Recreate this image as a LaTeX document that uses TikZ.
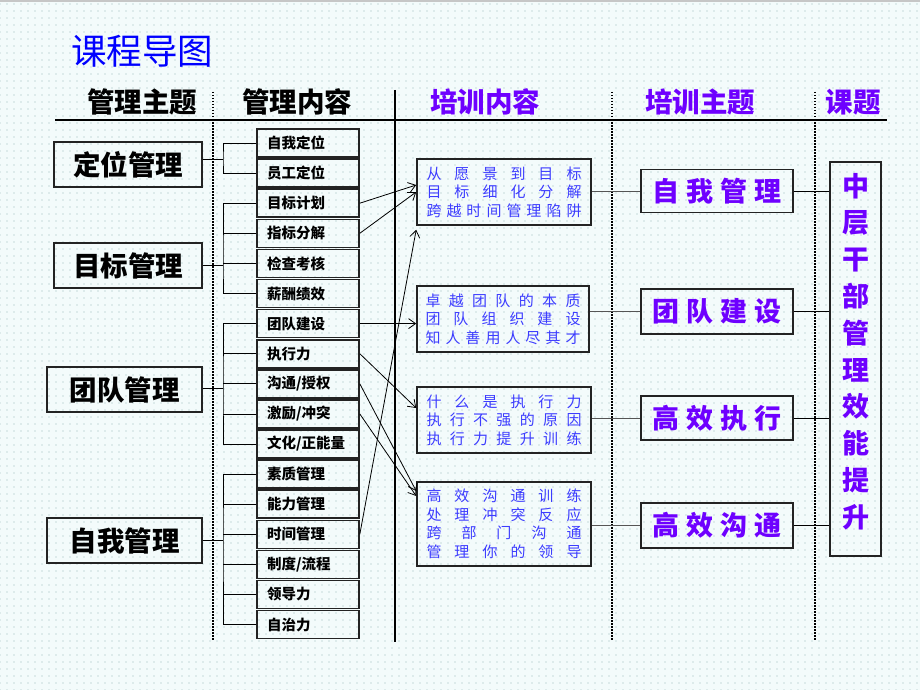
\documentclass[tikz,border=0pt]{standalone}
\usepackage{fontspec}
\setmainfont{Noto Sans CJK SC}
\usetikzlibrary{arrows.meta,patterns.meta}
\definecolor{ttlblue}{RGB}{0,0,255}
\definecolor{hpurple}{RGB}{110,0,255}
\definecolor{cblue}{RGB}{60,60,255}
\definecolor{bgc}{RGB}{243,251,251}
\definecolor{dotc}{RGB}{200,220,220}
\definecolor{bord}{RGB}{35,35,35}
\definecolor{lgray}{RGB}{85,85,85}

\newcommand\spreadtext[2]{\hbox to #1{\spreadfirst#2\relax}}
\def\spreadfirst#1{\ifx\relax#1\else #1\expandafter\spreadnext\fi}
\def\spreadnext#1{\ifx\relax#1\else\hfill #1\expandafter\spreadnext\fi}
\newcommand\cl[1]{\spreadtext{155pt}{#1}}

\tikzdeclarepattern{
  name=bgdots,
  type=uncolored,
  bounding box={(-3.5pt,-3.5pt) and (3.5pt,3.5pt)},
  tile size={(7pt,7pt)},
  code={\fill (0pt,0pt) circle (0.8pt);}
}

\begin{document}
\begin{tikzpicture}[x=1pt,y=-1pt,
  lbox/.style={draw=bord,line width=1.6pt,minimum height=45pt,font=\fontsize{27.5}{30}\selectfont\bfseries,inner sep=0pt},
  mbox/.style={draw=bord,line width=1.6pt,minimum width=102pt,minimum height=28pt,text width=82pt,inner xsep=10pt,inner ysep=0pt,align=left,font=\fontsize{14.5}{16}\selectfont\bfseries},
  cbox/.style={draw=bord,line width=1.6pt,minimum width=174pt,inner sep=0pt,align=center,font=\fontsize{15}{18.5}\selectfont,text=cblue},
  tbox/.style={draw=bord,line width=1.6pt,minimum width=152pt,minimum height=43pt,inner sep=0pt,font=\fontsize{27}{30}\selectfont\bfseries,text=hpurple},
  head/.style={font=\fontsize{27.5}{30}\selectfont\bfseries,inner sep=0pt},
  link/.style={line width=0.8pt,black},
  glink/.style={line width=0.9pt,lgray},
  arr/.style={line width=0.8pt,-{Straight Barb[length=7pt,width=10pt]}},
  vdot/.style={line width=1.5pt,dash pattern=on 1.5pt off 1.5pt},
]
\fill[bgc] (0,0) rectangle (920,690);
\fill[pattern={bgdots},pattern color=dotc] (0,0) rectangle (920,690);
\useasboundingbox (0,0) rectangle (920,690);
\draw[gray!45,line width=2pt] (0,1) -- (920,1);

% title and headers
\node[font=\fontsize{35.5}{38}\selectfont,text=ttlblue,inner sep=0pt] (title) at (142,51) {课程导图};
\node[head] (h1) at (142,102) {管理主题};
\node[head] (h2) at (297,102) {管理内容};
\node[head,text=hpurple] (h3) at (485,102) {培训内容};
\node[head,text=hpurple] (h4) at (700,102) {培训主题};
\node[head,text=hpurple] (h5) at (853,102) {课题};
\draw[line width=1.6pt] (55,120) -- (887,120);

% column separators
\draw[vdot] (213,92) -- (213,640);
\draw[line width=1.6pt] (395,90) -- (395,642);
\draw[vdot] (612,92) -- (612,640);
\draw[vdot] (815,92) -- (815,640);

% left boxes
\node[lbox,minimum width=148pt] (L1) at (128,164.5) {定位管理};
\node[lbox,minimum width=148pt] (L2) at (128,265.5) {目标管理};
\node[lbox,minimum width=155pt] (L3) at (124.5,389.5) {团队管理};
\node[lbox,minimum width=155pt] (L4) at (124.5,540.5) {自我管理};

% middle boxes
\foreach \t [count=\i] in {自我定位,员工定位,目标计划,指标分解,检查考核,薪酬绩效,团队建设,执行力,沟通/授权,激励/冲突,文化/正能量,素质管理,能力管理,时间管理,制度/流程,领导力,自治力}{
  \node[mbox] (m\i) at (308,{143+30.1*(\i-1)}) {\t};
}

% brackets
\coordinate (v1) at (223,159);
\coordinate (v2) at (223,265);
\coordinate (v3) at (223,388);
\coordinate (v4) at (223,540);
\draw[link] (m1.west) -| (v1) |- (m2.west);
\draw[link] (L1.east |- v1) -- (v1);
\draw[link] (m3.west) -| (v2) |- (m6.west);
\draw[link] (m4.west) -- (m4.west -| v2);
\draw[link] (m5.west) -- (m5.west -| v2);
\draw[link] (L2.east |- v2) -- (v2);
\draw[link] (m7.west) -| (v3) |- (m11.west);
\draw[link] (m8.west) -- (m8.west -| v3);
\draw[link] (m9.west) -- (m9.west -| v3);
\draw[link] (m10.west) -- (m10.west -| v3);
\draw[link] (L3.east |- v3) -- (v3);
\draw[link] (m12.west) -| (v4) |- (m17.west);
\draw[link] (m13.west) -- (m13.west -| v4);
\draw[link] (m14.west) -- (m14.west -| v4);
\draw[link] (m15.west) -- (m15.west -| v4);
\draw[link] (m16.west) -- (m16.west -| v4);
\draw[link] (L4.east |- v4) -- (v4);

% training content boxes
\node[cbox,minimum height=66pt] (c1) at (504,192) {\cl{从愿景到目标}\\\cl{目标细化分解}\\\cl{跨越时间管理陷阱}};
\node[cbox,minimum width=172pt,minimum height=66pt] (c2) at (503,319) {\cl{卓越团队的本质}\\\cl{团队组织建设}\\\cl{知人善用人尽其才}};
\node[cbox,minimum height=66pt] (c3) at (504,420) {\cl{什么是执行力}\\\cl{执行不强的原因}\\\cl{执行力提升训练}};
\node[cbox,minimum height=84pt] (c4) at (504,524) {\cl{高效沟通训练}\\\cl{处理冲突反应}\\\cl{跨部门沟通}\\\cl{管理你的领导}};

% arrows
\draw[arr] (m3.east) -- ([yshift=7pt]c1.west);
\draw[arr] (m4.east) -- (c1.west);
\draw[arr] (m14.east) -- ([yshift=-4pt]c1.south west);
\draw[arr] (m7.east) -- (c2.west |- m7.east);
\draw[arr] (m8.east) -- ([yshift=12pt]c3.west);
\draw[arr] (m9.east) -- ([yshift=33pt]c4.west);
\draw[arr] (m10.east) -- ([yshift=28pt]c4.west);

% training theme boxes
\node[tbox] (t1) at (717,191) {\spreadtext{130pt}{自我管理}};
\node[tbox,minimum height=45pt] (t2) at (717,311.5) {\spreadtext{130pt}{团队建设}};
\node[tbox,minimum height=44pt] (t3) at (717,418) {\spreadtext{130pt}{高效执行}};
\node[tbox,minimum height=45pt] (t4) at (717,525.5) {\spreadtext{130pt}{高效沟通}};

% course box
\node[draw=bord,line width=1.6pt,minimum width=51pt,minimum height=394pt,inner sep=0pt] (kt) at (855.5,359) {};
\node[font=\fontsize{27}{36.8}\selectfont\bfseries,text=hpurple,align=center,inner sep=0pt] (ktt) at (856,351.5) {中\\层\\干\\部\\管\\理\\效\\能\\提\\升};

% content -> theme
\draw[glink] (c1.east |- t1.west) -- (t1.west);
\draw[glink] (c2.east |- t2.west) -- (t2.west);
\draw[glink] (c3.east |- t3.west) -- (t3.west);
\draw[glink] (c4.east |- t4.west) -- (t4.west);

% theme -> course
\draw[link] (t1.east) -- (kt.west |- t1.east);
\draw[link] (t2.east) -- (kt.west |- t2.east);
\draw[link] (t3.east) -- (kt.west |- t3.east);
\draw[link] (t4.east) -- (kt.west |- t4.east);
\end{tikzpicture}
\end{document}
